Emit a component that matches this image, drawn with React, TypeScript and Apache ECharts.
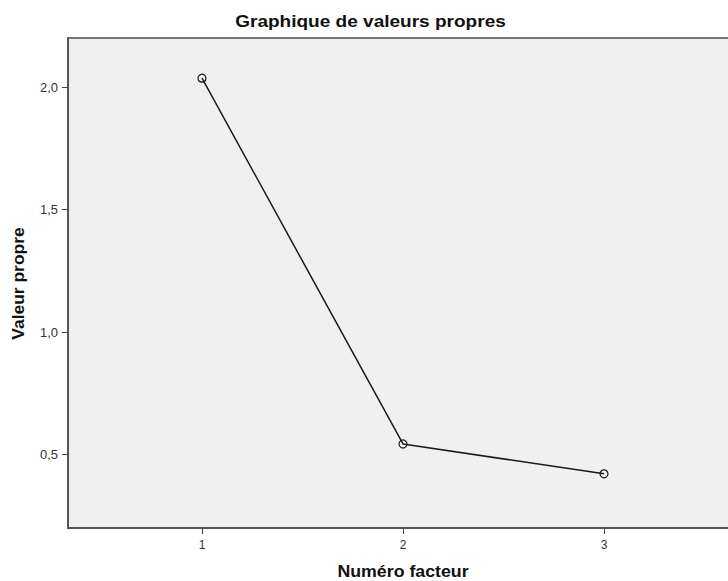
import React, { useEffect, useRef } from "react";
import * as echarts from "echarts";

const titleText = "Graphique de valeurs propres";
const xAxisName = "Numéro facteur";
const yAxisName = "Valeur propre";
const factors = [1, 2, 3];
const eigenvalues = [2.036, 0.543, 0.421];
const yTicks = [0.5, 1.0, 1.5, 2.0];
const xTicks = [1, 2, 3];

export default function App() {
  const ref = useRef<HTMLDivElement>(null);
  useEffect(() => {
    if (!ref.current) return;
    const chart = echarts.init(ref.current, null, { renderer: "svg" });
    const font = "'Liberation Sans', Arial, Helvetica, sans-serif";
    const boldFont = (size: number) => `bold ${size}px ${font}`;
    chart.setOption({
      animation: false,
      backgroundColor: "#ffffff",
      grid: {
        left: 68,
        top: 38,
        bottom: 53,
        right: 0,
        outerBoundsMode: "none",
        containLabel: false,
        show: true,
        backgroundColor: "#f0f0f0",
        borderColor: "#777",
        borderWidth: 2,
      },
      graphic: [
        {
          type: "text",
          x: 370.5,
          y: 21.5,
          scaleX: 1.12,
          style: { text: titleText, font: boldFont(17), fill: "#111", textAlign: "center", textVerticalAlign: "middle" },
        },
        {
          type: "text",
          x: 403,
          y: 572,
          scaleX: 1.11,
          style: { text: xAxisName, font: boldFont(16), fill: "#111", textAlign: "center", textVerticalAlign: "middle" },
        },
        {
          type: "text",
          x: 19,
          y: 283.5,
          rotation: Math.PI / 2,
          scaleX: 1.09,
          style: { text: yAxisName, font: boldFont(16), fill: "#111", textAlign: "center", textVerticalAlign: "middle" },
        },
      ],
      xAxis: {
        type: "value",
        min: 1 / 3,
        max: 11 / 3,
        axisLine: { show: true, onZero: false, lineStyle: { color: "#555", width: 2 } },
        axisTick: { show: true, length: 6, customValues: xTicks, lineStyle: { color: "#444", width: 1 } },
        axisLabel: {
          customValues: xTicks,
          margin: 11,
          fontFamily: font,
          fontSize: 12,
          color: "#333",
          formatter: (v: number) => String(Math.round(v)),
        },
        splitLine: { show: false },
      },
      yAxis: {
        type: "value",
        min: 0.2,
        max: 2.2,
        axisLine: { show: true, onZero: false, lineStyle: { color: "#555", width: 2 } },
        axisTick: { show: true, length: 6, customValues: yTicks, lineStyle: { color: "#444", width: 1 } },
        axisLabel: {
          customValues: yTicks,
          margin: 10,
          fontFamily: font,
          fontSize: 13,
          color: "#333",
          formatter: (v: number) => v.toFixed(1).replace(".", ","),
        },
        splitLine: { show: false },
      },
      series: [
        {
          type: "line",
          data: factors.map((f, i) => [f, eigenvalues[i]]),
          symbol: "circle",
          symbolSize: 8,
          lineStyle: { color: "#1a1a1a", width: 1.5 },
          itemStyle: { color: "rgba(0,0,0,0)", borderColor: "#1a1a1a", borderWidth: 1.2 },
          z: 3,
        },
      ],
    });
    return () => chart.dispose();
  }, []);
  return (
    <div style={{ position: "absolute", left: 0, top: 0, width: 728, height: 581, overflow: "hidden" }}>
      <div ref={ref} style={{ width: 738, height: 581 }} />
    </div>
  );
}
